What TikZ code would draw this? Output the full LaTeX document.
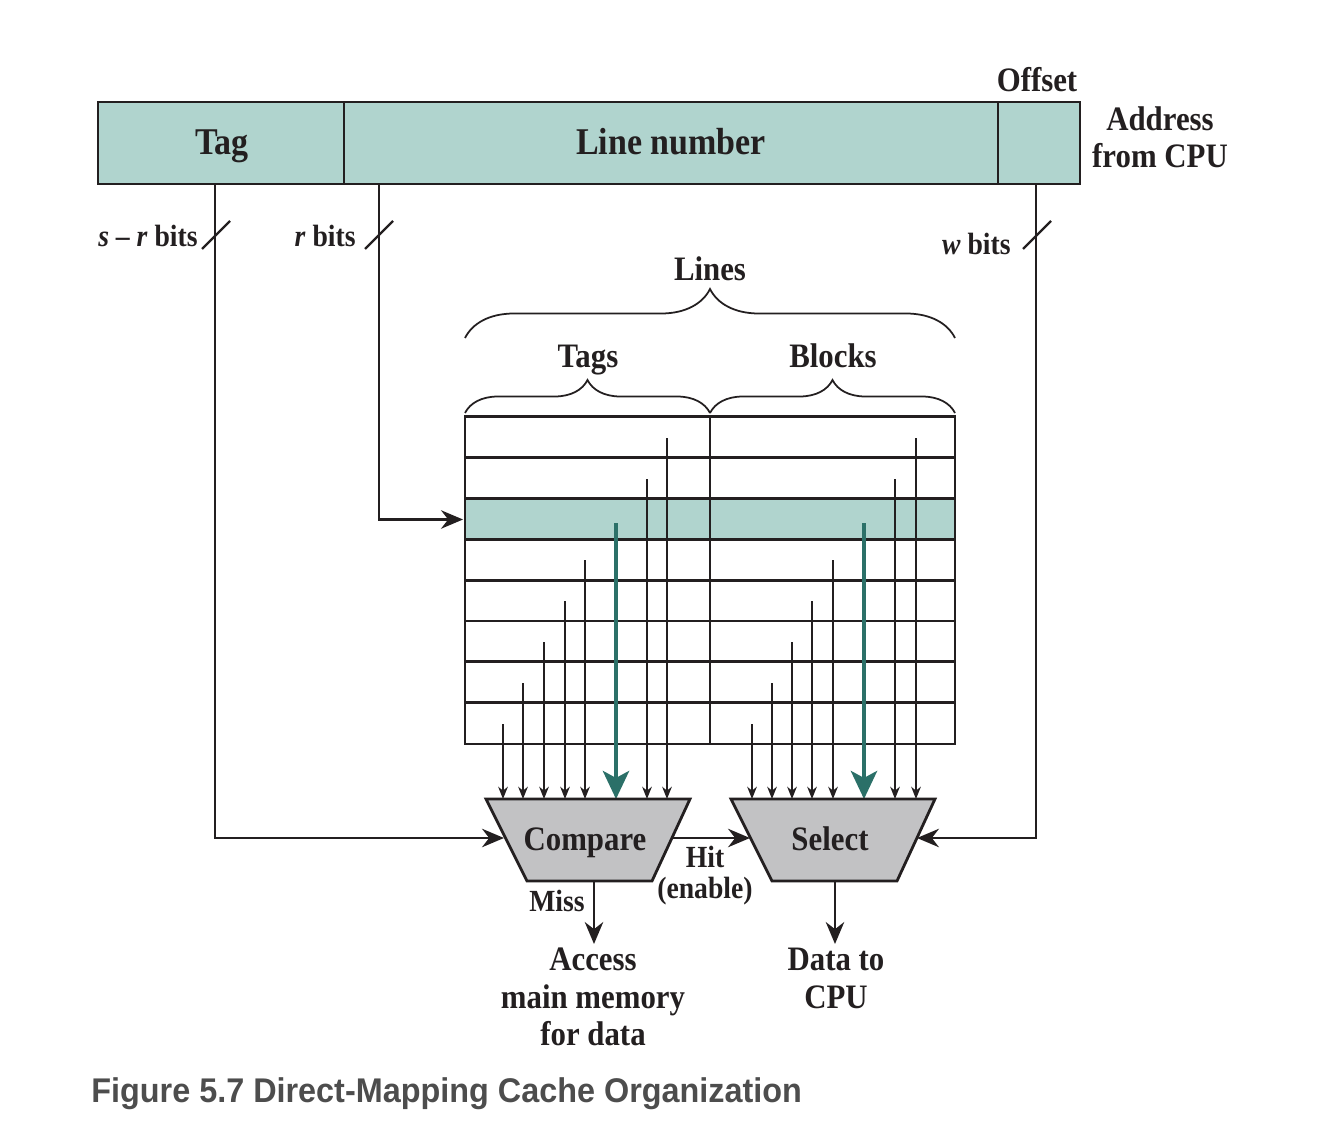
\documentclass[tikz,border=0pt]{standalone}
\usepackage{fontspec}
\setmainfont{Liberation Serif}[FakeStretch=0.9]
\newfontfamily\capfont{Liberation Sans}[FakeStretch=0.945]
\usetikzlibrary{arrows.meta,decorations.pathreplacing}
\definecolor{fieldfill}{HTML}{B0D4CE}
\definecolor{tealarr}{HTML}{2B7068}
\definecolor{boxgray}{HTML}{C2C2C4}
\definecolor{ink}{HTML}{231F20}
\definecolor{capgray}{HTML}{4D4D4D}
\tikzset{
  frame/.style={draw=ink, line width=1.6pt},
  wire/.style={draw=ink, line width=1.3pt},
  bigarrow/.style={wire, -{Stealth[length=12.5pt,width=10.5pt]}},
  thinwire/.style={draw=ink, line width=0.8pt, -{Stealth[length=7pt,width=5.5pt]}},
  tealwire/.style={draw=tealarr, line width=2pt, -{Stealth[length=16pt,width=15pt,inset=4pt]}},
  biglbl/.style={font=\bfseries\fontsize{21.5}{24}\selectfont, text=ink, inner sep=0pt, anchor=base},
  lbl/.style={font=\bfseries\fontsize{19.5}{21.5}\selectfont, text=ink, inner sep=0pt, anchor=base},
  smalllbl/.style={font=\bfseries\fontsize{17.5}{19}\selectfont, text=ink, inner sep=0pt, anchor=base},
  bracedeco/.style={draw=ink, line width=1pt, decorate, decoration={brace, amplitude=#1}},
}
\begin{document}
\begin{tikzpicture}[x=0.02cm, y=-0.02cm]
\useasboundingbox (0,0) rectangle (1326,1142);

% address fields
\draw[frame, fill=fieldfill] (98,102) rectangle (1080,184);
\draw[frame] (344,102) -- (344,184);
\draw[frame] (998,102) -- (998,184);
\node[biglbl] (tagtxt) at (222,155) {Tag};
\node[biglbl] (linetxt) at (671,155) {Line number};
\node[lbl] (offtxt) at (1037,92) {Offset};
\node[lbl] (addr1) at (1160,131) {Address};
\node[lbl] (addr2) at (1160,168) {from CPU};

% connector start/end coordinates
\coordinate (tagout) at (215,184);
\coordinate (rout) at (379,184);
\coordinate (wout) at (1036,184);
\coordinate (rowin) at (463,519.5);
\coordinate (cmpin) at (504,838);
\coordinate (selin) at (917,838);
\coordinate (cmpout) at (672,838);
\coordinate (selhit) at (750,838);
\coordinate (cmpbot) at (594,881);
\coordinate (selbot) at (835,881);
\coordinate (accin) at (594,944);
\coordinate (datain) at (835,944);

% cache table
\fill[fieldfill] (465,498.5) rectangle (955,539.5);
\foreach \k in {1,...,7} {
  \draw[frame] (465,{416.5+40.9*\k}) -- (955,{416.5+40.9*\k});
}
\draw[frame] (465,416.5) rectangle (955,744);
\draw[frame] (710,416.5) -- (710,744);

% braces
\draw[bracedeco=0.98cm] (465,338) -- (955,338);
\draw[bracedeco=0.66cm] (465,413) -- (710,413);
\draw[bracedeco=0.66cm] (710,413) -- (955,413);
\node[lbl] (linestxt) at (710,281) {Lines};
\node[lbl] (tagstxt) at (588,368) {Tags};
\node[lbl] (blockstxt) at (833,368) {Blocks};

% wires from the lines to compare/select
\foreach \x/\t in {667/438, 647/479, 585/560, 565/601, 544/642, 523/683, 503/724,
                   916/438, 895/479, 833/560, 812/601, 792/642, 772/683, 752/724} {
  \draw[thinwire] (\x,\t) -- (\x,799);
}
\draw[tealwire] (616,523) -- (616,799);
\draw[tealwire] (864,523) -- (864,799);

% compare and select units
\draw[frame, fill=boxgray] (486,799) -- (690,799) -- (652,881) -- (527,881) -- cycle;
\draw[frame, fill=boxgray] (731,799) -- (935,799) -- (897,881) -- (772,881) -- cycle;
\node[lbl] (cmp) at (585,850) {Compare};
\node[lbl] (sel) at (830,850) {Select};

% address wires
\draw[bigarrow] (tagout) |- (cmpin);
\draw[bigarrow] (rout) |- (rowin);
\draw[bigarrow] (wout) |- (selin);
\draw[wire] (202,249) -- (230,221);
\draw[wire] (365,249) -- (393,221);
\draw[wire] (1023,249) -- (1051,221);
\node[smalllbl, anchor=base east] (srbits) at (198,247) {\textit{s} \textendash\ \textit{r} bits};
\node[smalllbl, anchor=base east] (rbits) at (356,247) {\textit{r} bits};
\node[smalllbl, anchor=base east] (wbits) at (1011,255) {\textit{w} bits};

% outputs
\draw[bigarrow] (cmpout) -- (selhit);
\node[smalllbl] (hit) at (705,867) {Hit};
\node[smalllbl] (enable) at (705,898) {(enable)};
\draw[bigarrow] (cmpbot) -- (accin);
\node[smalllbl] (miss) at (557,911) {Miss};
\draw[bigarrow] (selbot) -- (datain);
\node[lbl] (access1) at (593,970) {Access};
\node[lbl] (access2) at (593,1008) {main memory};
\node[lbl] (access3) at (593,1045) {for data};
\node[lbl] (data1) at (836,970) {Data to};
\node[lbl] (data2) at (836,1008) {CPU};

% caption
\node[font=\capfont\bfseries\fontsize{19.5}{22}\selectfont, text=capgray, anchor=base west, inner sep=0pt] (caption) at (91,1102) {Figure 5.7 Direct-Mapping Cache Organization};
\end{tikzpicture}
\end{document}
